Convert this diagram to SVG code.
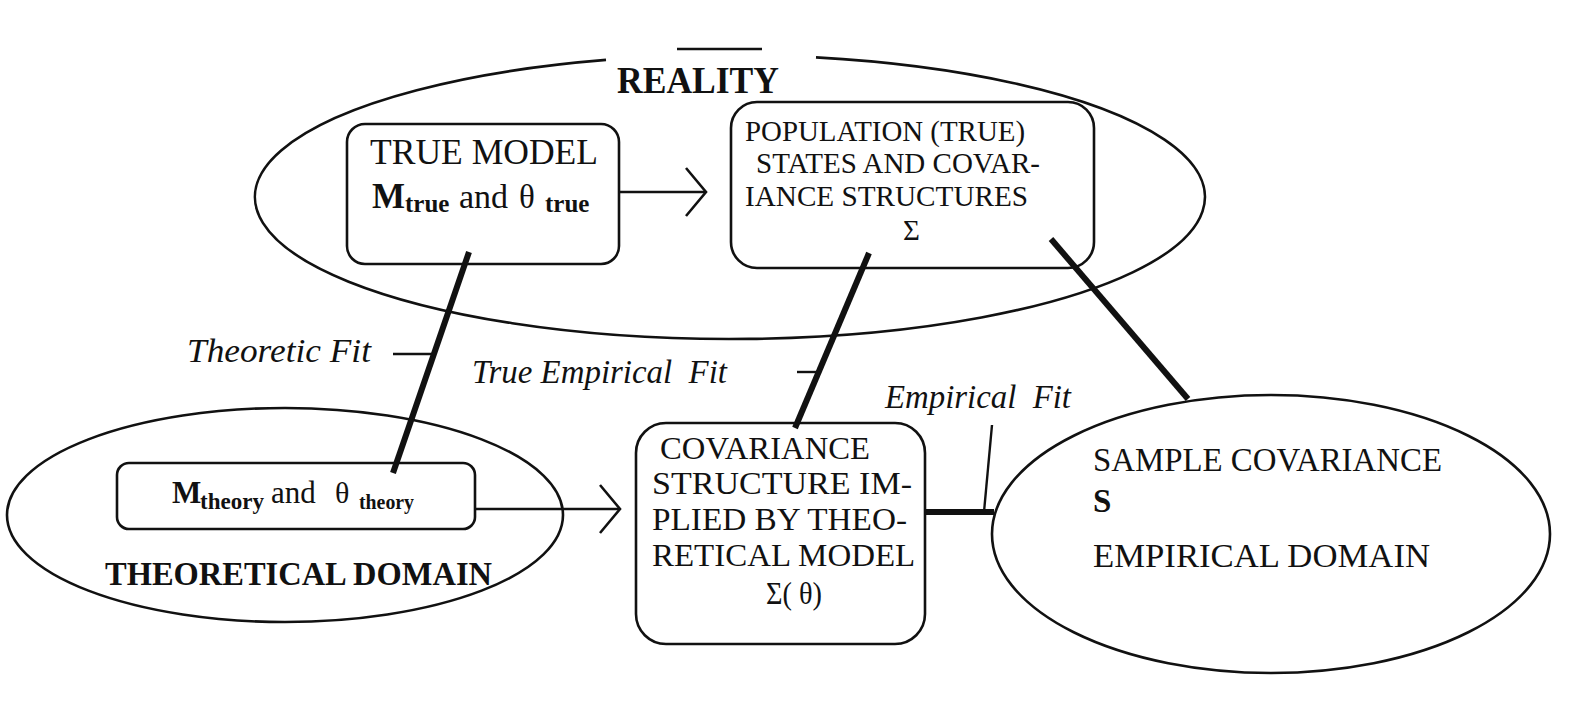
<svg xmlns="http://www.w3.org/2000/svg" width="1584" height="704" viewBox="0 0 1584 704">
<style>
  .shape{fill:none;stroke:#111;stroke-width:2.6}
  .thick{stroke:#111;stroke-width:6;fill:none;stroke-linecap:butt}
  .thin{stroke:#111;stroke-width:2.4;fill:none}
  text{font-family:"Liberation Serif","Times New Roman",serif;fill:#111}
  .b{font-weight:bold}
  .i{font-style:italic}
</style>
<defs>
  <marker id="chev" viewBox="0 0 24 52" refX="22" refY="26" markerWidth="24" markerHeight="52" markerUnits="userSpaceOnUse" orient="auto">
    <path d="M2,2 L22,26 L2,50" fill="none" stroke="#111" stroke-width="2.6"/>
  </marker>
</defs>
<rect width="1584" height="704" fill="#fff"/>

<g id="reality">
  <path class="shape" d="M 816 57.35 A 475 142 0 1 1 606 59.92"/>
  <line class="shape" x1="677" y1="49" x2="762" y2="49"/>
  <text class="b" x="617" y="93" font-size="37" textLength="162" lengthAdjust="spacingAndGlyphs">REALITY</text>
</g>

<g id="true-model">
  <rect class="shape" x="347" y="124" width="272" height="140" rx="18"/>
  <text x="370" y="164" font-size="36" textLength="228" lengthAdjust="spacingAndGlyphs">TRUE MODEL</text>
  <text>
    <tspan class="b" x="372" y="208" font-size="35">M</tspan>
    <tspan class="b" x="405" y="212" font-size="25">true</tspan>
    <tspan x="459" y="208" font-size="34">and</tspan>
    <tspan x="519" y="208" font-size="33">θ</tspan>
    <tspan class="b" x="545" y="212" font-size="25">true</tspan>
  </text>
</g>

<g id="population">
  <rect class="shape" x="731" y="102" width="363" height="166" rx="26"/>
  <text font-size="29">
    <tspan x="745" y="141" textLength="280" lengthAdjust="spacingAndGlyphs">POPULATION (TRUE)</tspan>
    <tspan x="756" y="173" textLength="284" lengthAdjust="spacingAndGlyphs">STATES AND COVAR-</tspan>
    <tspan x="745" y="206" textLength="283" lengthAdjust="spacingAndGlyphs">IANCE STRUCTURES</tspan>
    <tspan x="903" y="240">Σ</tspan>
  </text>
</g>

<g id="theoretical-domain">
  <ellipse class="shape" cx="285" cy="515" rx="278" ry="107"/>
  <text class="b" x="105" y="585" font-size="34" textLength="387" lengthAdjust="spacingAndGlyphs">THEORETICAL DOMAIN</text>
</g>

<g id="theory-model">
  <rect class="shape" x="117" y="463" width="358" height="66" rx="12"/>
  <text>
    <tspan class="b" x="172" y="503" font-size="31">M</tspan>
    <tspan class="b" x="200" y="509" font-size="23" textLength="64" lengthAdjust="spacingAndGlyphs">theory</tspan>
    <tspan x="271" y="503" font-size="31">and</tspan>
    <tspan x="335" y="503" font-size="30">θ</tspan>
    <tspan class="b" x="359" y="509" font-size="21" textLength="55" lengthAdjust="spacingAndGlyphs">theory</tspan>
  </text>
</g>

<g id="implied-covariance">
  <rect class="shape" x="636" y="423" width="289" height="221" rx="30"/>
  <text font-size="31">
    <tspan x="660" y="459" textLength="210" lengthAdjust="spacingAndGlyphs">COVARIANCE</tspan>
    <tspan x="652" y="494" textLength="260" lengthAdjust="spacingAndGlyphs">STRUCTURE IM-</tspan>
    <tspan x="652" y="530" textLength="255" lengthAdjust="spacingAndGlyphs">PLIED BY THEO-</tspan>
    <tspan x="652" y="566" textLength="262" lengthAdjust="spacingAndGlyphs">RETICAL MODEL</tspan>
    <tspan x="766" y="604" textLength="56" lengthAdjust="spacingAndGlyphs">Σ( θ)</tspan>
  </text>
</g>

<g id="sample">
  <ellipse class="shape" cx="1271" cy="534" rx="279" ry="139"/>
  <text font-size="33">
    <tspan x="1093" y="471" textLength="349" lengthAdjust="spacingAndGlyphs">SAMPLE COVARIANCE</tspan>
    <tspan class="b" x="1093" y="512">S</tspan>
    <tspan x="1093" y="567" textLength="337" lengthAdjust="spacingAndGlyphs">EMPIRICAL DOMAIN</tspan>
  </text>
</g>

<g id="connectors">
  <line class="thin" x1="619" y1="192" x2="706" y2="192" marker-end="url(#chev)"/>
  <line class="thin" x1="476" y1="509" x2="620" y2="509" marker-end="url(#chev)"/>
  <line class="thick" x1="469" y1="252" x2="393" y2="473"/>
  <line class="thin" x1="393" y1="354" x2="434" y2="354"/>
  <text class="i" x="187" y="362" font-size="34" textLength="184" lengthAdjust="spacingAndGlyphs">Theoretic Fit</text>
  <line class="thick" x1="869" y1="253" x2="795" y2="428"/>
  <line class="thin" x1="797" y1="372" x2="821" y2="372"/>
  <text class="i" x="472" y="383" font-size="33" textLength="255" lengthAdjust="spacingAndGlyphs" xml:space="preserve">True Empirical  Fit</text>
  <line class="thick" x1="925" y1="512" x2="994" y2="512"/>
  <line class="thin" x1="992" y1="425" x2="984" y2="512"/>
  <text class="i" x="885" y="408" font-size="33" textLength="186" lengthAdjust="spacingAndGlyphs" xml:space="preserve">Empirical  Fit</text>
  <line class="thick" x1="1051" y1="239" x2="1188" y2="399"/>
</g>
</svg>
